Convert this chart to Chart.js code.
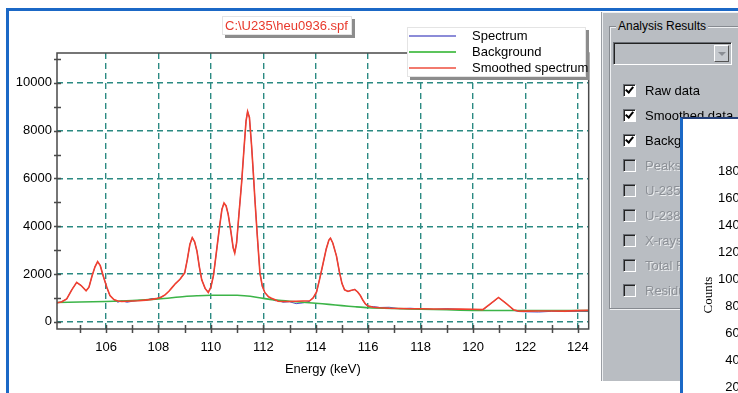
<!DOCTYPE html>
<html>
<head>
<meta charset="utf-8">
<script src="https://cdn.jsdelivr.net/npm/chart.js@4.4.0/dist/chart.umd.min.js"></script>
<style>
  body { margin: 0; width: 738px; height: 393px; overflow: hidden; background: #fff; position: relative;
         font-family: "Liberation Sans", Arial, sans-serif; font-size: 13px; }
  .abs { position: absolute; }
  #frameTop { left: 6px; top: 8px; width: 740px; height: 3px; background: #1b68c6; }
  #frameLeft { left: 6px; top: 8px; width: 3px; height: 390px; background: #1b68c6; }
  #chartBox { left: 9px; top: 11px; width: 591px; height: 382px; }
  #fileTag { left: 222px; top: 16px; width: 126px; height: 17px; line-height: 17px; background: #fff;
             border: 1px solid #e4e4e4; box-shadow: 3px 3px 0 #8c8c8c; color: #e8392c; padding-left: 2px; white-space: nowrap; }
  #legend { left: 407px; top: 27px; width: 177px; height: 48px; background: #fff;
            border: 1px solid #e4e4e4; box-shadow: 3px 3px 0 #8c8c8c; }
  #legend .row { position: absolute; left: 0; height: 16px; width: 177px; }
  #legend .sw { position: absolute; left: 1px; top: 7px; width: 47px; height: 2px; }
  #legend .tx { position: absolute; left: 64px; top: 0; line-height: 16px; white-space: nowrap; color: #000; }
  #panel { left: 602px; top: 12px; width: 140px; height: 368px; background: #b9bdc2;
           border-left: 1px solid #eef0f2; border-top: 1px solid #eef0f2; box-shadow: -1px 0 0 #9a9ea4; }
  #group { left: 609px; top: 26px; width: 140px; height: 281px; border: 1px solid #868a90;
           box-shadow: inset 1px 1px 0 #eef0f2, 1px 1px 0 #eef0f2; }
  #groupTitle { left: 616px; top: 18px; padding: 0 2px; background: #b9bdc2; font-size: 12px; line-height: 16px; color: #000; }
  #combo { left: 613px; top: 42px; width: 117px; height: 21px; background: #b9bdc2;
           border-top: 1px solid #6a6e74; border-left: 1px solid #6a6e74; border-right: 1px solid #fff; border-bottom: 1px solid #fff;
           box-shadow: inset 1px 1px 0 #222; }
  #comboBtn { left: 714px; top: 45px; width: 15px; height: 17px; background: #c6cacf;
              border-top: 1px solid #fff; border-left: 1px solid #fff; border-right: 1px solid #555; border-bottom: 1px solid #555; box-sizing: border-box; }
  #comboBtn:after { content: ""; position: absolute; left: 3px; top: 6px; border-left: 4px solid transparent;
                    border-right: 4px solid transparent; border-top: 4px solid #8a8e94; }
  .cb { left: 623px; width: 11px; height: 11px; border-top: 1px solid #6a6e74; border-left: 1px solid #6a6e74;
        border-right: 1px solid #fff; border-bottom: 1px solid #fff; box-shadow: inset 1px 1px 0 #222; background: #b9bdc2; }
  .cb.on { background: #fff; }
  .cb.on:after { content: ""; position: absolute; left: 3px; top: 0px; width: 3px; height: 6px;
                 border-right: 2px solid #000; border-bottom: 2px solid #000; transform: rotate(40deg); }
  .lab { left: 645px; line-height: 16px; white-space: nowrap; color: #000; }
  .lab.off { color: #8c9096; text-shadow: 1px 1px 0 #eceef0; }
  #win { left: 680px; top: 117px; width: 70px; height: 290px; background: #fff;
         border-left: 3px solid #1b68c6; border-top: 2px solid #24407a; }
  .wt { left: 690px; width: 57px; text-align: right; line-height: 16px; color: #000; }
  #counts { left: 688px; top: 287px; width: 40px; line-height: 16px; text-align: center;
            font-family: "Liberation Serif", serif; transform: rotate(-90deg); color: #000; }
</style>
</head>
<body>
<div id="frameTop" class="abs"></div>
<div id="frameLeft" class="abs"></div>
<div id="chartBox" class="abs"><canvas id="spec" width="591" height="382"></canvas></div>
<div id="fileTag" class="abs">C:\U235\heu0936.spf</div>
<div id="legend" class="abs"></div>

<div id="panel" class="abs"></div>
<div id="group" class="abs"></div>
<div id="groupTitle" class="abs">Analysis Results</div>
<div id="combo" class="abs"></div>
<div id="comboBtn" class="abs"></div>
<div id="checks"></div>

<div id="win" class="abs"></div>
<div id="winTicks"></div>
<div id="counts" class="abs">Counts</div>

<script>
// Energy axis (keV) shared by raw and smoothed spectrum
const energy = [
  104.13, 104.3, 104.5, 104.7, 104.88, 105.05, 105.24, 105.35, 105.46, 105.58,
  105.68, 105.78, 105.9, 106.03, 106.15, 106.3, 106.45, 106.6, 106.8, 107.0,
  107.25, 107.5, 107.75, 107.9, 108.1, 108.25, 108.4, 108.5, 108.65, 108.82,
  109.0, 109.1, 109.2, 109.29, 109.38, 109.47, 109.56, 109.65, 109.78, 109.9,
  110.0, 110.1, 110.22, 110.32, 110.42, 110.5, 110.58, 110.66, 110.76, 110.85,
  110.91, 110.98, 111.07, 111.17, 111.26, 111.34, 111.4, 111.47, 111.55, 111.62,
  111.68, 111.77, 111.87, 111.96, 112.06, 112.2, 112.31, 112.45, 112.56, 112.75,
  113.0, 113.25, 113.5, 113.77, 113.9, 114.03, 114.15, 114.28, 114.4, 114.5,
  114.56, 114.65, 114.79, 114.9, 115.0, 115.1, 115.23, 115.36, 115.49, 115.6,
  115.7, 115.8, 115.9, 116.0, 116.2, 116.44, 116.8, 117.2, 117.6, 118.0,
  118.5, 119.0, 119.5, 120.0, 120.37, 120.67, 120.97, 121.27, 121.55, 121.75,
  122.0, 122.5, 123.0, 123.5, 124.0, 124.41
];
const smoothed = [
  800, 830, 960, 1350, 1650, 1520, 1300, 1450, 1900, 2300,
  2520, 2350, 1900, 1450, 1100, 930, 870, 850, 860, 870,
  880, 910, 940, 970, 1030, 1130, 1280, 1410, 1600, 1780,
  2050, 2600, 3250, 3520, 3350, 2950, 2300, 1760, 1400, 1230,
  1450, 1950, 3000, 3900, 4700, 4970, 4850, 4500, 3800, 3100,
  2880, 3300, 4500, 5800, 7200, 8400, 8800, 8550, 7400, 6200,
  5100, 3600, 2050, 1500, 1220, 1050, 990, 920, 860, 850,
  850, 860, 870, 880, 1000, 1250, 1800, 2450, 3050, 3420,
  3500, 3300, 2750, 2100, 1600, 1340, 1270, 1320, 1350, 1250,
  1100, 900, 740, 660, 610, 590, 570, 560, 550, 545,
  540, 535, 530, 525, 510, 760, 1020, 760, 500, 440,
  450, 455, 455, 450, 470, 480
];
const spectrum = [
  790, 840, 950, 1360, 1640, 1530, 1290, 1460, 1890, 2310,
  2510, 2360, 1890, 1440, 1090, 920, 820, 880, 820, 860,
  900, 890, 980, 960, 1040, 1120, 1290, 1400, 1610, 1770,
  2040, 2610, 3240, 3530, 3340, 2960, 2290, 1770, 1390, 1240,
  1460, 1940, 3010, 3890, 4710, 4960, 4860, 4490, 3810, 3090,
  2890, 3290, 4510, 5790, 7210, 8390, 8810, 8540, 7410, 6190,
  5110, 3590, 2060, 1490, 1230, 1040, 960, 880, 900, 820,
  840, 760, 790, 860, 1010, 1240, 1810, 2440, 3060, 3410,
  3510, 3290, 2760, 2090, 1610, 1330, 1280, 1310, 1360, 1240,
  1110, 890, 730, 650, 640, 600, 610, 550, 570, 540,
  520, 550, 520, 510, 490, 750, 1010, 770, 480, 430,
  420, 410, 440, 430, 440, 430
];
// Fitted background
const bgEnergy = [104.13, 105, 106, 107, 108, 109, 109.5, 110, 110.5, 111, 111.5, 112, 112.5, 113,
                  113.5, 114, 114.5, 115, 115.5, 116, 117, 118, 119, 120, 121, 122, 123, 124.41];
const background = [810, 830, 850, 890, 960, 1060, 1090, 1110, 1115, 1110, 1070, 980, 910, 860,
                    820, 780, 730, 680, 630, 590, 555, 530, 505, 480, 475, 475, 475, 470];

const xTicks = [106, 108, 110, 112, 114, 116, 118, 120, 122, 124];
const yTicks = [0, 2000, 4000, 6000, 8000, 10000];

const seriesNames = ['Spectrum', 'Background', 'Smoothed spectrum'];
const seriesColors = ['#5454c8', '#3cb448', '#f2402e'];
const legendColors = ['#8c8cd8', '#5cc45c', '#f27a6e'];

// side panel content
const checkLabels = ['Raw data', 'Smoothed data', 'Background', 'Peaks', 'U-235 peaks', 'U-238 peaks', 'X-rays', 'Total Fit', 'Residuals'];
const checkStates = [true, true, true, false, false, false, false, false, false];
const countTicks = ['1800', '1600', '1400', '1200', '1000', '800', '600', '400', '200'];

const pts = (xs, ys) => xs.map((x, i) => ({ x: x, y: ys[i] }));
const font = { family: 'Liberation Sans', size: 13 };

// axis frame + crossing tick marks
const frame = {
  id: 'frame',
  afterDraw(chart) {
    const { ctx, chartArea: a, scales: { x, y } } = chart;
    ctx.save();
    ctx.strokeStyle = '#4a4a4a';
    ctx.lineWidth = 1.5;
    ctx.strokeRect(a.left, a.top, a.right - a.left, a.bottom - a.top);
    ctx.beginPath();
    for (let v = 105; v <= 124; v++) {
      const px = Math.round(x.getPixelForValue(v)) + 0.5;
      ctx.moveTo(px, a.bottom - 4);
      ctx.lineTo(px, a.bottom + 4);
    }
    for (let v = 0; v <= 11000; v += 1000) {
      const py = Math.round(y.getPixelForValue(v)) + 0.5;
      ctx.moveTo(a.left - 3, py);
      ctx.lineTo(a.left + 4, py);
    }
    ctx.stroke();
    ctx.restore();
  }
};

const chart = new Chart(document.getElementById('spec'), {
  type: 'line',
  data: {
    datasets: [
      { label: seriesNames[0], data: pts(energy, spectrum), borderColor: seriesColors[0], borderWidth: 1, pointRadius: 0, order: 3 },
      { label: seriesNames[1], data: pts(bgEnergy, background), borderColor: seriesColors[1], borderWidth: 1.6, pointRadius: 0, tension: 0.3, order: 2 },
      { label: seriesNames[2], data: pts(energy, smoothed), borderColor: seriesColors[2], borderWidth: 1.6, pointRadius: 0, order: 1 }
    ]
  },
  options: {
    responsive: false,
    animation: false,
    layout: { padding: { left: 0, top: 42, right: 11, bottom: 0 } },
    plugins: { legend: { display: false }, tooltip: { enabled: false } },
    scales: {
      x: {
        type: 'linear', min: 104.13, max: 124.41,
        afterBuildTicks: s => { s.ticks = xTicks.map(v => ({ value: v })); },
        ticks: { padding: 11, color: '#000', font: font, maxRotation: 0, autoSkip: false },
        grid: { color: '#2b8a82', lineWidth: 1.4, drawTicks: false },
        border: { display: false, dash: [6, 4] },
        title: { display: true, text: 'Energy (keV)', color: '#000', font: font, padding: { top: 0, bottom: 16 } },
        afterFit: s => { s.height = 64; }
      },
      y: {
        type: 'linear', min: -300, max: 11250,
        afterBuildTicks: s => { s.ticks = yTicks.map(v => ({ value: v })); },
        ticks: { padding: 5, color: '#000', font: font, autoSkip: false, callback: v => String(v) },
        grid: { color: '#2b8a82', lineWidth: 1.4, drawTicks: false },
        border: { display: false, dash: [6, 4] },
        afterFit: s => { s.width = 48; }
      }
    }
  },
  plugins: [frame]
});

// legend box built from the datasets
const legendBox = document.getElementById('legend');
chart.data.datasets.forEach((ds, i) => {
  const row = document.createElement('div');
  row.className = 'row';
  row.style.top = (i * 16) + 'px';
  const sw = document.createElement('span');
  sw.className = 'sw';
  sw.style.backgroundColor = legendColors[i];
  const tx = document.createElement('span');
  tx.className = 'tx';
  tx.textContent = ds.label;
  row.appendChild(sw);
  row.appendChild(tx);
  legendBox.appendChild(row);
});

// check boxes in the analysis panel
const checks = document.getElementById('checks');
checkLabels.forEach((t, i) => {
  const cy = 91 + i * 25;
  const box = document.createElement('div');
  box.className = 'abs cb' + (checkStates[i] ? ' on' : '');
  box.style.top = (cy - 7) + 'px';
  checks.appendChild(box);
  const lab = document.createElement('div');
  lab.className = 'abs lab' + (checkStates[i] ? '' : ' off');
  lab.style.top = (cy - 8) + 'px';
  lab.textContent = t;
  checks.appendChild(lab);
});

// partly hidden second window
const winTicks = document.getElementById('winTicks');
countTicks.forEach((t, i) => {
  const d = document.createElement('div');
  d.className = 'abs wt';
  d.style.top = (163 + i * 27) + 'px';
  d.textContent = t;
  winTicks.appendChild(d);
});
</script>
</body>
</html>
